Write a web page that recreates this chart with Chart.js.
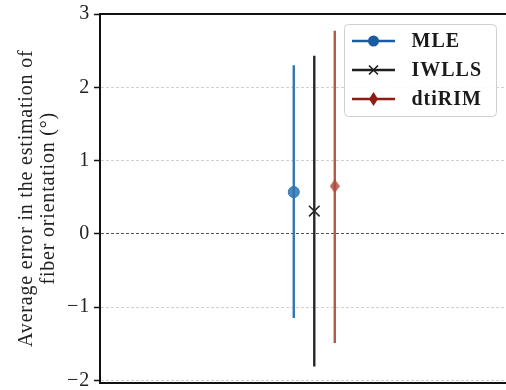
<!DOCTYPE html>
<html><head><meta charset="utf-8">
<script src="https://cdn.jsdelivr.net/npm/chart.js@4/dist/chart.umd.min.js"></script>
<style>html,body{margin:0;padding:0;background:#fff}</style>
</head><body>
<canvas id="c" width="506" height="390"></canvas>
<script>
// ---- data ----
const methods = ['MLE', 'IWLLS', 'dtiRIM'];
const xPositions = [-1, 0, 1];
const meanErrors = [0.57, 0.31, 0.65];
const lowerBounds = [-1.15, -1.81, -1.49];
const upperBounds = [2.30, 2.43, 2.77];
const yTicks = [-2, -1, 0, 1, 2, 3];
const yTitle = ['Average error in the estimation of', 'fiber orientation (\u00B0)'];

// ---- styles ----
const barColors = ['#2f77b4', '#262626', '#b35848'];
const markerFill = ['rgba(45,115,178,0.85)', '#262626', 'rgba(176,78,62,0.85)'];
const legendColors = ['#1a5ba3', '#1f1f1f', '#8c1d10'];
const SERIF = '"Liberation Serif", "Times New Roman", serif';

function thinDiamond(color, w, h) {
  const c = document.createElement('canvas');
  c.width = w; c.height = h;
  const g = c.getContext('2d');
  g.fillStyle = color;
  g.beginPath();
  g.moveTo(w / 2, 0); g.lineTo(w, h / 2); g.lineTo(w / 2, h); g.lineTo(0, h / 2);
  g.closePath(); g.fill();
  return c;
}
const markerStyles = ['circle', 'crossRot', thinDiamond(markerFill[2], 10, 14)];
const markerRadius = [5.5, 7.5, 6];

const datasets = [];
methods.forEach((m, i) => {
  datasets.push({
    type: 'scatter', label: m, order: 0,
    data: [{x: xPositions[i], y: meanErrors[i]}],
    pointStyle: markerStyles[i], pointRadius: markerRadius[i],
    backgroundColor: markerFill[i], borderColor: i === 1 ? '#262626' : barColors[i],
    borderWidth: i === 1 ? 1.6 : 1, showLine: false
  });
});
methods.forEach((m, i) => {
  datasets.push({
    type: 'line', label: m + ' range', order: 1,
    data: [{x: xPositions[i], y: lowerBounds[i]}, {x: xPositions[i], y: upperBounds[i]}],
    borderColor: barColors[i], borderWidth: 2.4, pointRadius: 0, fill: false,
    borderCapStyle: 'butt'
  });
});

const legendPlugin = {
  id: 'boxLegend',
  afterDraw(chart) {
    const ctx = chart.ctx;
    ctx.save();
    const bx = 344.5, by = 24.5, bw = 152, bh = 92;
    ctx.beginPath();
    ctx.roundRect(bx, by, bw, bh, 4);
    ctx.fillStyle = 'rgba(255,255,255,0.9)';
    ctx.fill();
    ctx.strokeStyle = '#cfcfcf';
    ctx.lineWidth = 1;
    ctx.stroke();
    const rows = [41, 70, 99];
    methods.forEach((m, i) => {
      const y = rows[i];
      const col = legendColors[i];
      ctx.strokeStyle = col;
      ctx.lineWidth = 2.4;
      ctx.beginPath(); ctx.moveTo(352, y); ctx.lineTo(395, y); ctx.stroke();
      const cx = 373.5;
      ctx.fillStyle = col;
      if (i === 0) {
        ctx.beginPath(); ctx.arc(cx, y, 5.5, 0, Math.PI * 2); ctx.fill();
      } else if (i === 1) {
        ctx.lineWidth = 1.6;
        ctx.beginPath();
        ctx.moveTo(cx - 4.5, y - 4.5); ctx.lineTo(cx + 4.5, y + 4.5);
        ctx.moveTo(cx + 4.5, y - 4.5); ctx.lineTo(cx - 4.5, y + 4.5);
        ctx.stroke();
      } else {
        ctx.beginPath();
        ctx.moveTo(cx, y - 7); ctx.lineTo(cx + 4.5, y); ctx.lineTo(cx, y + 7); ctx.lineTo(cx - 4.5, y);
        ctx.closePath(); ctx.fill();
      }
      ctx.fillStyle = '#1a1a1a';
      ctx.font = 'bold 20px ' + SERIF;
      ctx.letterSpacing = '1px';
      ctx.textAlign = 'left';
      ctx.textBaseline = 'middle';
      ctx.fillText(m, 411.5, y + 1);
    });
    ctx.restore();
  }
};

const spacingPlugin = {
  id: 'spacing',
  beforeDraw(chart) { chart.ctx.letterSpacing = '0.8px'; }
};

const fmt = v => (v < 0 ? '\u2212' + Math.abs(v) : String(v));
const flatX = s => { s.height = 0; s.paddingLeft = 0; s.paddingRight = 0; };

new Chart(document.getElementById('c'), {
  data: { datasets },
  options: {
    responsive: false, animation: false, devicePixelRatio: 1,
    layout: { autoPadding: false, padding: { left: 0, right: 0, top: 14, bottom: 7.5 } },
    plugins: { legend: { display: false }, tooltip: { enabled: false } },
    scales: {
      x: {
        type: 'linear', position: 'bottom', min: -10.45, max: 9.35,
        ticks: { display: false }, grid: { display: false, drawTicks: false },
        border: { display: true, color: '#111', width: 2 },
        afterFit: flatX
      },
      x2: {
        type: 'linear', position: 'top', min: -10.45, max: 9.35,
        ticks: { display: false }, grid: { display: false, drawTicks: false },
        border: { display: true, color: '#111', width: 2 },
        afterFit: flatX
      },
      y: {
        type: 'linear', min: -2.03, max: 3,
        afterBuildTicks(s) { s.ticks = yTicks.map(v => ({ value: v })); },
        afterFit(s) { s.width = 100; s.paddingTop = 0; s.paddingBottom = 0; },
        ticks: {
          callback: v => fmt(v), color: '#222',
          font: { family: SERIF, size: 20 }, padding: 4
        },
        grid: {
          color: c => (c.tick && c.tick.value === 0 ? '#555' : '#c4c4c4'),
          lineWidth: c => (c.tick && c.tick.value === 0 ? 1 : 0.8),
          drawTicks: true, tickLength: 6, tickColor: '#111', tickWidth: 1.5,
          tickBorderDash: []
        },
        border: { display: true, color: '#111', width: 2, dash: [3, 2] },
        title: {
          display: true, text: yTitle, color: '#222',
          font: { family: SERIF, size: 20, lineHeight: 1.1 },
          padding: { top: 16, bottom: 0 }
        }
      }
    }
  },
  plugins: [spacingPlugin, legendPlugin]
});
</script>
</body></html>
